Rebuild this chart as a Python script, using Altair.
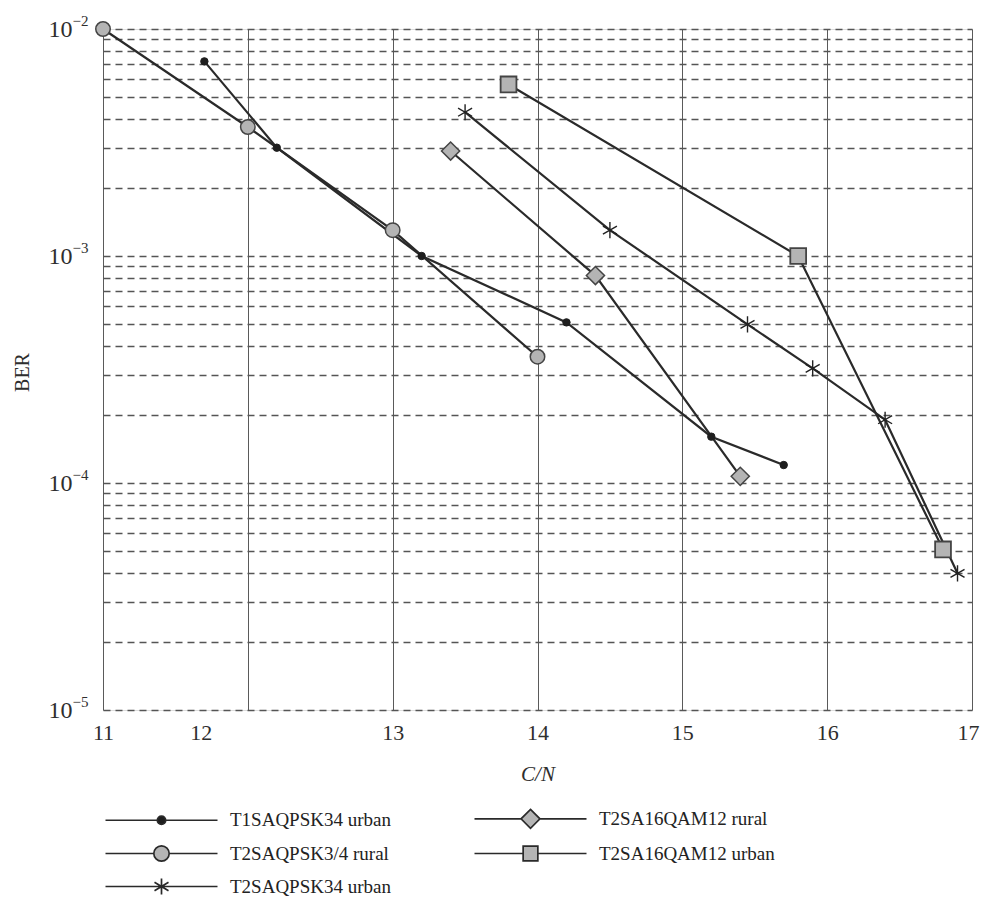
import altair as alt
import pandas as pd

# ---- data ----
t1_urban_x = [11.7, 12.2, 13.2, 14.2, 15.2, 15.7]
t1_urban_y = [7.2e-3, 3.0e-3, 1.0e-3, 5.1e-4, 1.6e-4, 1.2e-4]

t2_qpsk_rural_x = [11.0, 12.0, 13.0, 14.0]
t2_qpsk_rural_y = [1.0e-2, 3.7e-3, 1.3e-3, 3.6e-4]

t2_16qam_rural_x = [13.4, 14.4, 15.4]
t2_16qam_rural_y = [2.9e-3, 8.2e-4, 1.07e-4]

t2_16qam_urban_x = [13.8, 15.8, 16.8]
t2_16qam_urban_y = [5.7e-3, 1.0e-3, 5.1e-5]

t2_qpsk_urban_x = [13.5, 14.5, 15.45, 15.9, 16.4, 16.9]
t2_qpsk_urban_y = [4.3e-3, 1.3e-3, 5.0e-4, 3.2e-4, 1.9e-4, 4.0e-5]

series_names = [
    "T1SAQPSK34 urban",
    "T2SA16QAM12 rural",
    "T2SAQPSK3/4 rural",
    "T2SA16QAM12 urban",
    "T2SAQPSK34 urban",
]

x_ticks = [11, 12, 13, 14, 15, 16, 17]
y_ticks = [k * 10.0 ** e for e in (-5, -4, -3) for k in range(1, 10)] + [1e-2]
y_decades = [1e-5, 1e-4, 1e-3, 1e-2]

rows = []
for name, xs, ys in [
    (series_names[0], t1_urban_x, t1_urban_y),
    (series_names[2], t2_qpsk_rural_x, t2_qpsk_rural_y),
    (series_names[1], t2_16qam_rural_x, t2_16qam_rural_y),
    (series_names[3], t2_16qam_urban_x, t2_16qam_urban_y),
    (series_names[4], t2_qpsk_urban_x, t2_qpsk_urban_y),
]:
    for i, (xv, yv) in enumerate(zip(xs, ys)):
        rows.append({"series": name, "cn": xv, "ber": yv, "order": i})
df = pd.DataFrame(rows)

LINE = "#2a2a2a"
GRAY = "#b4b4b4"
FONT = "Liberation Serif"
TXT = "#2e2e2e"

xscale = alt.Scale(domain=[11, 17], nice=False, zero=False)
yscale = alt.Scale(type="log", domain=[1e-5, 1e-2], nice=False)

mant_expr = (
    "(abs(datum.value-0.01)<1e-9 || abs(datum.value-0.001)<1e-10 || "
    "abs(datum.value-0.0001)<1e-11 || abs(datum.value-0.00001)<1e-12) ? '10' : ''"
)
exp_expr = (
    "abs(datum.value-0.01)<1e-9 ? '−2' : "
    "abs(datum.value-0.001)<1e-10 ? '−3' : "
    "abs(datum.value-0.0001)<1e-11 ? '−4' : "
    "abs(datum.value-0.00001)<1e-12 ? '−5' : ''"
)

base = alt.Chart(df)

x_enc = alt.X(
    "cn:Q",
    scale=xscale,
    axis=alt.Axis(
        values=x_ticks,
        format="d",
        title="C/N",
        titleFont=FONT,
        titleFontStyle="italic",
        titleFontWeight="normal",
        titleFontSize=21,
        titleColor=TXT,
        titleY=64,
        titleBaseline="middle",
        labelFont=FONT,
        labelFontSize=22,
        labelColor=TXT,
        labelPadding=12,
        labelOffset={
            "condition": [
                {"test": "datum.value == 12", "value": -47},
                {"test": "datum.value == 17", "value": -4},
            ],
            "value": 0,
        },
        ticks=False,
        domain=False,
        grid=True,
        gridColor="#5a5a5a",
        gridWidth=1,
        labelFlush=False,
    ),
)
y_enc = alt.Y(
    "ber:Q",
    scale=yscale,
    axis=alt.Axis(
        values=y_ticks,
        labelExpr=mant_expr,
        title="BER",
        titleFont=FONT,
        titleFontWeight="normal",
        titleFontSize=20,
        titleColor=TXT,
        titleAngle=270,
        titleX=-81,
        titleY=343,
        titleAlign="center",
        titleBaseline="middle",
        labelFont=FONT,
        labelFontSize=24,
        labelColor=TXT,
        labelPadding=31,
        ticks=False,
        domain=False,
        grid=True,
        gridColor="#555",
        gridWidth=1.6,
        gridDash=[7, 5],
        labelFlush=False,
        labelOverlap=False,
    ),
)

lines = base.mark_line(color=LINE, strokeWidth=2.2).encode(
    x=x_enc, y=y_enc, detail="series:N", order="order:Q"
)

def pts(name, **kw):
    return (
        base.transform_filter(alt.datum.series == name)
        .mark_point(**kw)
        .encode(x="cn:Q", y="ber:Q")
    )

star_path = "M0,-1L0,1M-0.87,-0.5L0.87,0.5M-0.87,0.5L0.87,-0.5"

p_t1 = pts(series_names[0], shape="circle", size=55, filled=True, fill="#1e1e1e", stroke="#1e1e1e", strokeWidth=1, opacity=1)
p_qr = pts(series_names[2], shape="circle", size=210, filled=True, fill=GRAY, stroke="#444", strokeWidth=1.5, opacity=1)
p_16r = pts(series_names[1], shape="diamond", size=330, filled=True, fill=GRAY, stroke="#444", strokeWidth=1.5, opacity=1)
p_16u = pts(series_names[3], shape="square", size=250, filled=True, fill=GRAY, stroke="#444", strokeWidth=1.8, opacity=1)
p_qu = pts(series_names[4], shape=star_path, size=260, filled=False, stroke="#222", strokeWidth=1.4, opacity=1)

plot = alt.layer(lines, p_t1, p_qr, p_16r, p_16u, p_qu)

# legend glyphs: line with marker in the middle (units of 7px)
def circ(r):
    return f"M{7+r},0A{r},{r} 0 1,1 {7-r},0A{r},{r} 0 1,1 {7+r},0Z"

def seg(r):
    return f"M-1,0L{7-r},0M{7+r},0L15,0"

leg_shapes = [
    seg(0.55) + circ(0.6),
    seg(1.35) + "M7,-1.35L8.35,0L7,1.35L5.65,0Z",
    seg(1.05) + circ(1.1),
    seg(1.05) + "M5.95,-1.05L8.05,-1.05L8.05,1.05L5.95,1.05Z",
    "M-1,0L15,0" + "M7,-1.15L7,1.15M6.0,-0.6L8.0,0.6M6.0,0.6L8.0,-0.6",
]
leg_fills = ["#1e1e1e", GRAY, GRAY, GRAY, "#ffffff"]
leg_strokes = [LINE] * 5

def legend_spec():
    return alt.Legend(
        title=None,
        orient="none",
        legendX=0,
        legendY=780,
        columns=2,
        direction="horizontal",
        symbolSize=196,
        symbolStrokeWidth=1.7,
        symbolOpacity=1,
        labelFont=FONT,
        labelFontSize=19,
        labelColor="#222",
        labelOffset=108,
        labelLimit=400,
        rowPadding=10,
        columnPadding=80,
    )

# exponent labels of the y axis and the legend live on this empty layer
aux = (
    base.transform_filter("false")
    .mark_point(filled=True, opacity=1, strokeWidth=1.7)
    .encode(
        x=alt.X("cn:Q", scale=xscale, axis=None),
        y=alt.Y(
            "ber:Q",
            scale=yscale,
            axis=alt.Axis(
                orient="left",
                values=y_decades,
                labelExpr=exp_expr,
                title=None,
                labelFont=FONT,
                labelFontSize=15,
                labelColor=TXT,
                labelPadding=15,
                labelOffset=-9,
                labelAlign="right",
                ticks=False,
                domain=False,
                grid=False,
                labelFlush=False,
                labelOverlap=False,
            ),
        ),
        shape=alt.Shape("series:N", scale=alt.Scale(domain=series_names, range=leg_shapes), legend=legend_spec()),
        fill=alt.Fill("series:N", scale=alt.Scale(domain=series_names, range=leg_fills), legend=legend_spec()),
        stroke=alt.Stroke("series:N", scale=alt.Scale(domain=series_names, range=leg_strokes), legend=legend_spec()),
    )
)

chart = (
    alt.layer(plot, aux)
    .resolve_scale(y="independent", x="independent")
    .properties(
        width=869,
        height=681,
        autosize=alt.AutoSizeParams(type="none"),
        padding={"left": 95, "top": 21, "right": 8, "bottom": 187},
    )
    .configure_view(stroke="#333", strokeWidth=2.5)
    .configure(background="white")
)

chart.save("out.html", embed_options={"renderer": "svg", "actions": False})
